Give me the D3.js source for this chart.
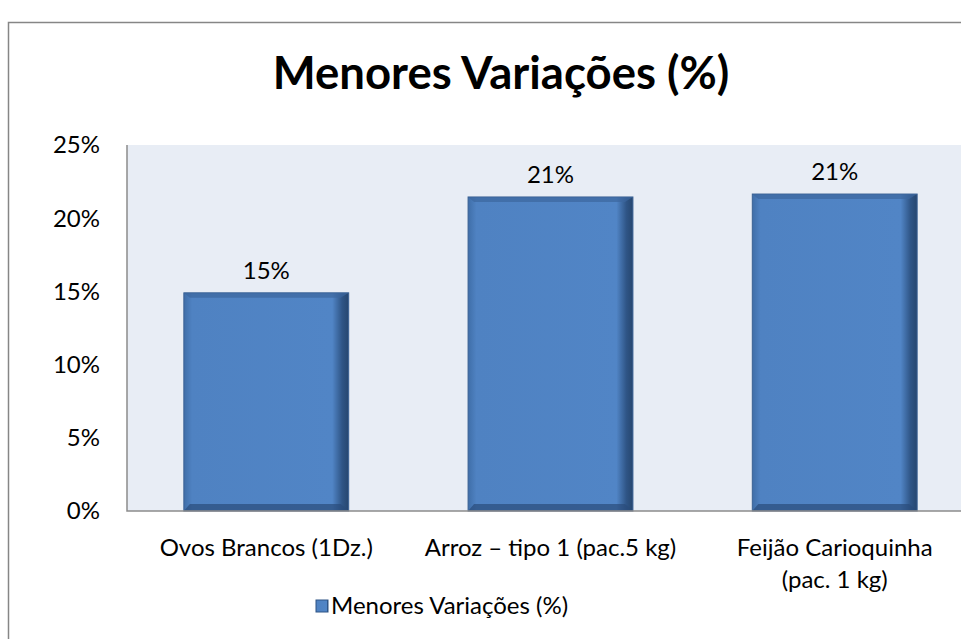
<!DOCTYPE html>
<html>
<head>
<meta charset="utf-8">
<script src="https://cdn.jsdelivr.net/npm/d3@7"></script>
<style>
  body { margin: 0; background: #fff; }
  svg { display: block; font-family: Lato, "Open Sans", sans-serif; }
</style>
</head>
<body>
<svg id="chart" width="961" height="639"></svg>
<script>
// data
const categories = ["Ovos Brancos (1Dz.)", "Arroz – tipo 1 (pac.5 kg)", "Feijão Carioquinha (pac. 1 kg)"];
const categoryLines = [["Ovos Brancos (1Dz.)"], ["Arroz – tipo 1 (pac.5 kg)"], ["Feijão Carioquinha", "(pac. 1 kg)"]];
const values = [0.149, 0.2145, 0.2165];
const valueLabels = ["15%", "21%", "21%"];
const yTicks = [0, 0.05, 0.10, 0.15, 0.20, 0.25];
const seriesName = "Menores Variações (%)";
const chartTitle = "Menores Variações (%)";

const svg = d3.select("#chart");
const plot = { left: 127, top: 145, right: 974, bottom: 511 };

const defs = svg.append("defs");
const g1 = defs.append("linearGradient").attr("id", "barFill")
    .attr("x1", 0).attr("x2", 1).attr("y1", 0).attr("y2", 0);
g1.append("stop").attr("offset", "0%").attr("stop-color", "#3f6ea8");
g1.append("stop").attr("offset", "5%").attr("stop-color", "#4f82c2");
g1.append("stop").attr("offset", "90%").attr("stop-color", "#5185c6");
g1.append("stop").attr("offset", "96%").attr("stop-color", "#2f5586");
g1.append("stop").attr("offset", "100%").attr("stop-color", "#26466f");

// outer frame
svg.append("rect")
    .attr("x", 8.5).attr("y", 22.5)
    .attr("width", 1000).attr("height", 700)
    .attr("fill", "#fff").attr("stroke", "#868686").attr("stroke-width", 1.5);

// title
svg.append("text")
    .attr("x", 501).attr("y", 89)
    .attr("text-anchor", "middle")
    .attr("font-weight", "bold")
    .attr("font-size", 45.5)
    .text(chartTitle);

const x = d3.scaleBand().domain(categories)
    .range([plot.left, plot.right])
    .paddingInner(0.42).paddingOuter(0.2);
const y = d3.scaleLinear().domain([0, 0.25]).range([plot.bottom, plot.top]);

// plot background
svg.append("rect")
    .attr("x", plot.left).attr("y", plot.top)
    .attr("width", plot.right - plot.left).attr("height", plot.bottom - plot.top)
    .attr("fill", "#e8edf5");

// y tick labels
svg.append("g").selectAll("text")
    .data(yTicks).join("text")
    .attr("x", 100).attr("y", d => y(d))
    .attr("dy", "0.35em")
    .attr("text-anchor", "end")
    .attr("font-size", 24)
    .text(d => d3.format(".0%")(d));

// bars
const bars = svg.append("g").selectAll("g")
    .data(values).join("g")
    .attr("transform", (d, i) => `translate(${x(categories[i])},${y(d)})`);

bars.append("rect")
    .attr("width", x.bandwidth())
    .attr("height", d => plot.bottom - y(d))
    .attr("fill", "url(#barFill)")
    .attr("stroke", "#3a6193").attr("stroke-width", 1);

// bevel: bottom dark strip, top light strip
bars.append("path")
    .attr("d", d => {
        const w = x.bandwidth(), h = plot.bottom - y(d);
        return `M0,${h} L${w},${h} L${w - 8},${h - 7} L6,${h - 7} Z`;
    })
    .attr("fill", "#2a4c7a").attr("opacity", 0.7);
bars.append("path")
    .attr("d", () => {
        const w = x.bandwidth();
        return `M0,0 L${w},0 L${w - 8},5 L6,5 Z`;
    })
    .attr("fill", "#3c679e").attr("opacity", 0.7);

// value labels
svg.append("g").selectAll("text")
    .data(values).join("text")
    .attr("x", (d, i) => x(categories[i]) + x.bandwidth() / 2)
    .attr("y", d => y(d) - 14)
    .attr("text-anchor", "middle")
    .attr("font-size", 24)
    .text((d, i) => valueLabels[i]);

// axis lines
svg.append("path")
    .attr("d", `M${plot.left},${plot.top} V${plot.bottom} H${plot.right}`)
    .attr("fill", "none").attr("stroke", "#8c8c8c").attr("stroke-width", 1.5);

// category labels
const cat = svg.append("g").selectAll("text")
    .data(categoryLines).join("text")
    .attr("x", (d, i) => x(categories[i]) + x.bandwidth() / 2)
    .attr("y", 556)
    .attr("text-anchor", "middle")
    .attr("font-size", 24);
cat.selectAll("tspan")
    .data(d => d).join("tspan")
    .attr("x", function() { return this.parentNode.getAttribute("x"); })
    .attr("dy", (d, j) => j === 0 ? 0 : 32)
    .text(d => d);

// legend
const legend = svg.append("g").attr("transform", "translate(316,600)");
legend.append("rect")
    .attr("width", 12).attr("height", 12)
    .attr("fill", "url(#barFill)").attr("stroke", "#2f5586");
legend.append("text")
    .attr("x", 15).attr("y", 14)
    .attr("font-size", 24)
    .text(seriesName);
</script>
</body>
</html>
